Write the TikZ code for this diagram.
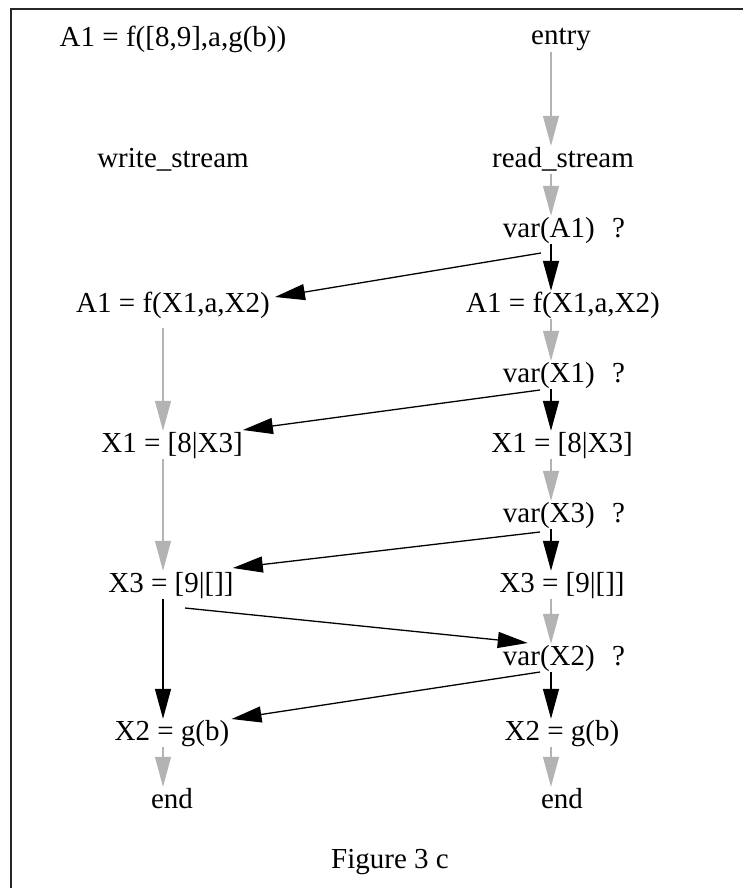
\documentclass[tikz,border=0pt]{standalone}
\usepackage{fontspec}
\setmainfont{Liberation Serif}
\usetikzlibrary{arrows.meta,calc}
\definecolor{edgegray}{RGB}{179,179,179}
\begin{document}
\begin{tikzpicture}[x=1pt,y=-1pt,
  lbl/.style={anchor=base, inner sep=0pt, font=\fontsize{29}{34}\selectfont, text height=21pt, text depth=7pt},
  garrow/.style={draw=edgegray, line width=1.1pt, -{Triangle[length=30pt,width=16pt,fill=edgegray]}},
  barrow/.style={draw=black, line width=1.3pt, -{Triangle[length=30pt,width=16pt]}}]
\useasboundingbox (0,0) rectangle (742,888);
\fill[white] (0,0) rectangle (742,888);
\draw[line width=1.5pt, black!85] (11,900) -- (11,9) -- (760,9);
\coordinate (axL) at (163,0);
\coordinate (axR) at (551,0);
% nodes
\node[lbl] (title) at (173,47) {A1 = f([8,9],a,g(b))};
\node[lbl] (entry) at (561,45) {entry};
\node[lbl] (ws) at (173,167) {write\_stream};
\node[lbl] (rs) at (563,167) {read\_stream};
\node[lbl] (varA1) at (564,237) {var(A1)\hspace{0.6em}?};
\node[lbl] (lA1) at (173,312) {A1 = f(X1,a,X2)};
\node[lbl] (rA1) at (563,312) {A1 = f(X1,a,X2)};
\node[lbl] (varX1) at (564,382) {var(X1)\hspace{0.6em}?};
\node[lbl] (lX1) at (172,452) {X1 = [8|X3]};
\node[lbl] (rX1) at (562,452) {X1 = [8|X3]};
\node[lbl] (varX3) at (564,522) {var(X3)\hspace{0.6em}?};
\node[lbl] (lX3) at (171,592) {X3 = [9|[]]};
\node[lbl] (rX3) at (562,592) {X3 = [9|[]]};
\node[lbl] (varX2) at (564,665) {var(X2)\hspace{0.6em}?};
\node[lbl] (lX2) at (172,740) {X2 = g(b)};
\node[lbl] (rX2) at (562,740) {X2 = g(b)};
\node[lbl] (lend) at (172,808) {end};
\node[lbl] (rend) at (562,808) {end};
\node[lbl] (fig) at (390,868) {Figure 3 c};
% gray vertical edges, right column
\draw[garrow] (entry.south -| axR) -- (rs.north -| axR);
\draw[garrow] (rs.south -| axR) -- (varA1.north -| axR);
\draw[garrow] (rA1.south -| axR) -- (varX1.north -| axR);
\draw[garrow] (rX1.south -| axR) -- (varX3.north -| axR);
\draw[garrow] (rX3.south -| axR) -- (varX2.north -| axR);
\draw[garrow] (rX2.south -| axR) -- (rend.north -| axR);
% gray vertical edges, left column
\draw[garrow, shorten <=9pt] (lA1.south -| axL) -- (lX1.north -| axL);
\draw[garrow] (lX1.south -| axL) -- (lX3.north -| axL);
\draw[garrow] (lX2.south -| axL) -- (lend.north -| axL);
% black vertical edges
\draw[barrow] (varA1.south -| axR) -- (rA1.north -| axR);
\draw[barrow] (varX1.south -| axR) -- (rX1.north -| axR);
\draw[barrow] (varX3.south -| axR) -- (rX3.north -| axR);
\draw[barrow] (varX2.south -| axR) -- (rX2.north -| axR);
\draw[barrow] (lX3.south -| axL) -- (lX2.north -| axL);
% black diagonal edges
\draw[barrow] ($(varA1.base -| axR)+(-10,16)$) -- ($(lA1.base east)+(5,-15)$);
\draw[barrow] ($(varX1.base -| axR)+(-11,8)$) -- ($(lX1.base east)+(0,-22)$);
\draw[barrow] ($(varX3.base -| axR)+(-11,10)$) -- ($(lX3.base east)+(-1,-24)$);
\draw[barrow] ($(lX3.base -| axL)+(22,16)$) -- ($(varX2.base west)+(25,-22)$);
\draw[barrow] ($(varX2.base -| axR)+(-11,7)$) -- ($(lX2.base east)+(2,-21)$);
\end{tikzpicture}
\end{document}
